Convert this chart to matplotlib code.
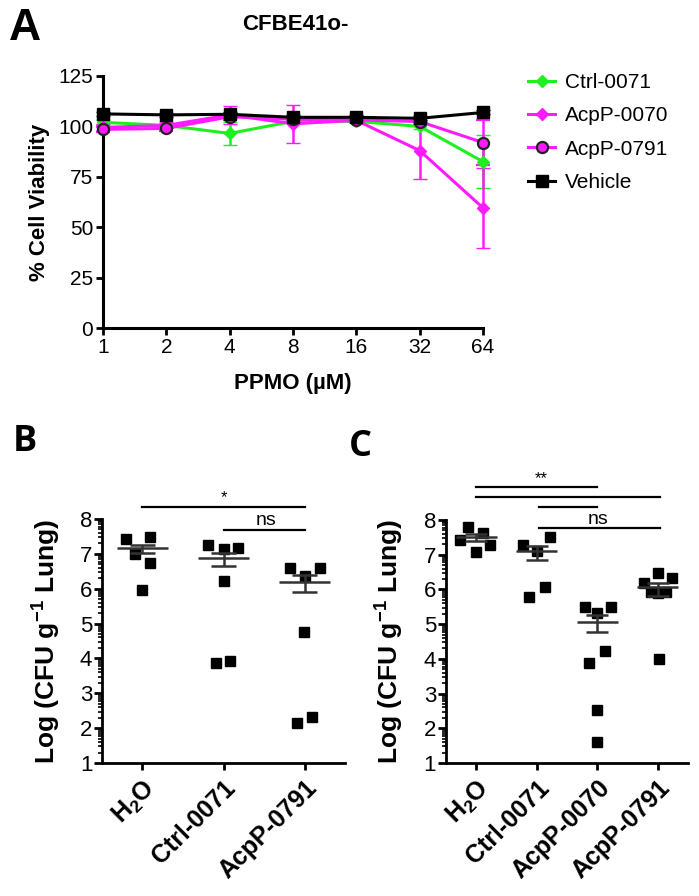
import numpy as np
import matplotlib
matplotlib.use("Agg")
import matplotlib.pyplot as plt
from matplotlib.lines import Line2D

plt.rcParams['font.family'] = ['Liberation Sans', 'DejaVu Sans']
plt.rcParams['mathtext.fontset'] = 'custom'
plt.rcParams['mathtext.bf'] = 'Liberation Sans:bold'
plt.rcParams['mathtext.rm'] = 'Liberation Sans:bold'
plt.rcParams['mathtext.default'] = 'bf'

# ---- panel A: viability vs PPMO concentration
conc = [1, 2, 4, 8, 16, 32, 64]
ctrl_0071 = [102.0, 100.5, 96.5, 102.5, 102.5, 100.0, 82.5]
ctrl_0071_err = [1.0, 1.0, 5.6, 1.0, 1.0, 1.5, 13.0]
acpp_0070 = [99.5, 100.5, 105.7, 101.3, 103.0, 88.0, 59.6]
acpp_0070_err = [1.5, 1.5, 4.5, 9.3, 1.0, 14.0, 20.0]
acpp_0791 = [98.5, 99.0, 104.8, 103.5, 103.2, 102.4, 92.0]
acpp_0791_err = [1.5, 1.5, 1.5, 1.5, 1.0, 1.5, 11.0]
vehicle = [106.2, 105.7, 106.0, 104.5, 104.5, 104.0, 106.9]
vehicle_err = [1.0, 1.0, 1.0, 1.0, 1.0, 1.0, 1.0]

# ---- panel B: lung CFU
b_groups = ["H$_2$O", "Ctrl-0071", "AcpP-0791"]
b_vals = [[7.43, 7.47, 7.00, 6.75, 5.96],
          [7.25, 7.13, 7.16, 6.23, 3.87, 3.93],
          [6.58, 6.58, 6.36, 4.76, 2.15, 2.32]]
b_jit = [[-0.20, 0.09, -0.095, 0.09, 0.0],
         [-0.19, 0.0, 0.18, 0.0, -0.09, 0.08],
         [-0.18, 0.185, 0.0, -0.01, -0.09, 0.095]]
b_mean = [7.16, 6.89, 6.20]
b_hi = [7.26, 7.01, 6.39]
b_lo = [7.03, 6.65, 5.91]

# ---- panel C: lung CFU
c_groups = ["H$_2$O", "Ctrl-0071", "AcpP-0070", "AcpP-0791"]
c_vals = [[7.79, 7.62, 7.42, 7.28, 7.09],
          [7.28, 7.50, 7.12, 5.77, 6.06],
          [5.50, 5.50, 5.31, 4.23, 3.87, 2.52, 1.61],
          [6.48, 6.19, 6.33, 5.94, 5.94, 5.90, 3.99]]
c_jit = [[-0.14, 0.11, -0.27, 0.22, 0.0],
         [-0.22, 0.22, 0.0, -0.13, 0.13],
         [-0.21, 0.23, 0.0, 0.12, -0.14, 0.0, 0.0],
         [0.0, -0.23, 0.23, -0.11, 0.13, 0.0, 0.02]]
c_mean = [7.50, 7.10, 5.07, 6.08]
c_hi = [7.60, 7.25, 5.26, 6.19]
c_lo = [7.40, 6.85, 4.78, 5.81]

GREEN = "#1fee1f"
MAGENTA = "#ff1aff"

fig = plt.figure(figsize=(6.99, 8.96), dpi=100)

# ================= A
axA = fig.add_axes([0.1474, 0.6339, 0.5436, 0.2813])
series = [
    ("Ctrl-0071", ctrl_0071, ctrl_0071_err, dict(color=GREEN, marker="D", ms=6, mfc=GREEN, mec=GREEN)),
    ("AcpP-0070", acpp_0070, acpp_0070_err, dict(color=MAGENTA, marker="D", ms=6, mfc=MAGENTA, mec=MAGENTA)),
    ("AcpP-0791", acpp_0791, acpp_0791_err, dict(color=MAGENTA, marker="o", ms=8, mfc=MAGENTA, mec="#222222", mew=1.6)),
    ("Vehicle", vehicle, vehicle_err, dict(color="black", marker="s", ms=8, mfc="black", mec="black")),
]
handles = []
for name, vals, err, st in series:
    axA.errorbar(conc, vals, yerr=err, color=st["color"], lw=2.2, elinewidth=1.8,
                 capsize=5, capthick=1.8, clip_on=False, zorder=3,
                 marker=st["marker"], ms=st["ms"], mfc=st["mfc"], mec=st["mec"],
                 mew=st.get("mew", 1))
    handles.append(Line2D([], [], color=st["color"], lw=2.2, marker=st["marker"],
                          ms=st["ms"], mfc=st["mfc"], mec=st["mec"], mew=st.get("mew", 1),
                          label=name))
axA.set_xscale("log", base=2)
axA.set_xlim(1, 64)
axA.set_ylim(0, 125)
axA.set_xticks(conc)
axA.set_xticklabels([str(c) for c in conc])
axA.minorticks_off()
axA.set_yticks([0, 25, 50, 75, 100, 125])
for s in ["top", "right"]:
    axA.spines[s].set_visible(False)
for s in ["left", "bottom"]:
    axA.spines[s].set_linewidth(2.2)
axA.tick_params(width=2, length=5, labelsize=15, pad=2)
axA.set_ylabel("% Cell Viability", fontsize=16, fontweight="bold", va="center")
axA.yaxis.set_label_coords(-0.166, 0.5)
axA.set_xlabel("PPMO (µM)", fontsize=16, fontweight="bold", va="center")
axA.xaxis.set_label_coords(0.5, -0.222)
fig.text(295 / 699, 1 - 24 / 896, "CFBE41o-", ha="center", va="center",
         fontsize=16, fontweight="bold")
fig.legend(handles=handles, loc="upper left", bbox_to_anchor=(520 / 699, 1 - 65 / 896),
           frameon=False, fontsize=15, handlelength=1.3, handletextpad=0.45,
           labelspacing=0.68, borderaxespad=0)


def scatter_panel(ax, groups, vals, jit, mean, hi, lo, mhalf, chalf):
    for i, (v, j) in enumerate(zip(vals, jit)):
        ax.plot(np.array(j) + i, v, ls="none", marker="s", ms=7.5, color="black",
                zorder=3, clip_on=False)
        ax.hlines(mean[i], i - mhalf, i + mhalf, color="#333333", lw=1.8, zorder=4)
        ax.vlines(i, lo[i], hi[i], color="#333333", lw=1.8, zorder=4)
        ax.hlines([lo[i], hi[i]], i - chalf, i + chalf, color="#333333", lw=1.8, zorder=4)
    ax.set_xlim(-0.5, len(groups) - 0.5)
    ax.set_ylim(1, 8)
    ax.set_yticks(range(1, 9))
    minors = [n + np.log10(k) for n in range(1, 8) for k in range(2, 10)]
    ax.set_yticks(minors, minor=True)
    ax.set_xticks(range(len(groups)))
    ax.set_xticklabels(groups, rotation=45, ha="right", rotation_mode="anchor",
                       fontsize=18, fontweight="bold")
    for s in ["top", "right"]:
        ax.spines[s].set_visible(False)
    for s in ["left", "bottom"]:
        ax.spines[s].set_linewidth(2)
    ax.tick_params(axis="y", which="major", width=2, length=6, labelsize=16, pad=1)
    ax.tick_params(axis="y", which="minor", width=1.2, length=3)
    ax.tick_params(axis="x", width=2, length=5, pad=4)
    ax.set_ylabel("Log (CFU g$^{-1}$ Lung)", fontsize=19, fontweight="bold", va="center")


def sig(ax, x0, x1, y):
    ax.plot([x0, x1], [y, y], color="black", lw=1.6, clip_on=False)


# ================= B
axB = fig.add_axes([0.1459, 0.1484, 0.3477, 0.2724])
scatter_panel(axB, b_groups, b_vals, b_jit, b_mean, b_hi, b_lo, 0.32, 0.15)
axB.yaxis.set_label_coords(-0.226, 0.5)
sig(axB, 0, 2, 8.34)
sig(axB, 1, 2, 7.69)
axB.text(1, 8.62, "*", ha="center", va="center", fontsize=12, clip_on=False)
axB.text(1.52, 7.97, "ns", ha="center", va="center", fontsize=14, clip_on=False)

# ================= C
axC = fig.add_axes([0.638, 0.1484, 0.3463, 0.2712])
scatter_panel(axC, c_groups, c_vals, c_jit, c_mean, c_hi, c_lo, 0.34, 0.18)
axC.yaxis.set_label_coords(-0.231, 0.5)
sig(axC, 0, 2, 8.94)
sig(axC, 0, 3.03, 8.65)
sig(axC, 1.04, 2, 8.37)
sig(axC, 1.04, 3.03, 7.76)
axC.text(1.07, 9.18, "**", ha="center", va="center", fontsize=12, clip_on=False)
axC.text(2.02, 8.02, "ns", ha="center", va="center", fontsize=14, clip_on=False)

# panel letters
fig.text(25 / 699, 1 - 28 / 896, "A", ha="center", va="center", fontsize=32, fontweight="bold")
fig.text(25 / 699, 1 - 442 / 896, "B", ha="center", va="center", fontsize=26,
         fontweight="bold", family="Open Sans")
fig.text(360 / 699, 1 - 447 / 896, "C", ha="center", va="center", fontsize=26,
         fontweight="bold", family="Open Sans")

fig.savefig("out.png", dpi=100)
